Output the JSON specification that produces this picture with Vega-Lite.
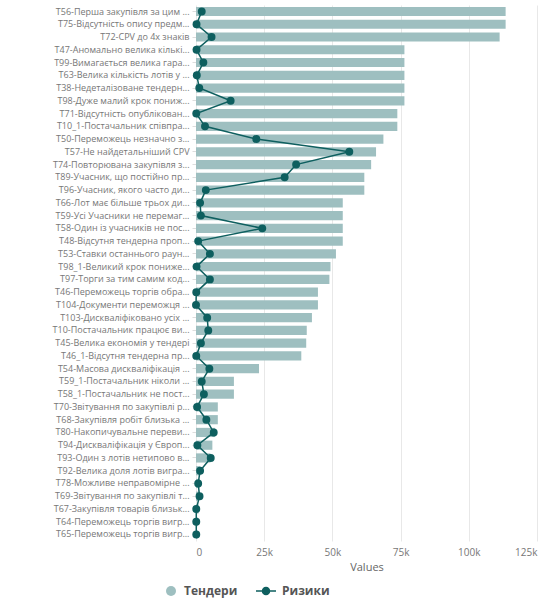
{
  "$schema": "https://vega.github.io/schema/vega-lite/v6.json",
  "width": 341,
  "height": 536,
  "padding": {"left": 5, "top": 4, "right": 5, "bottom": 0},
  "config": {
    "view": {"stroke": null},
    "font": "Open Sans",
    "axis": {"labelColor": "#777777", "titleColor": "#666666", "gridColor": "#e8e8e8", "domain": false}
  },
  "data": {
    "values": [
      {"label": "T56-Перша закупівля за цим ...", "tenders": 113500, "risks": 2100},
      {"label": "T75-Відсутність опису предм...", "tenders": 113500, "risks": 200},
      {"label": "T72-CPV до 4х знаків", "tenders": 111300, "risks": 5700},
      {"label": "T47-Аномально велика кількі...", "tenders": 76400, "risks": 200},
      {"label": "T99-Вимагається велика гара...", "tenders": 76400, "risks": 2700},
      {"label": "T63-Велика кількість лотів у ...", "tenders": 76400, "risks": 300},
      {"label": "T38-Недеталізоване тендерн...", "tenders": 76400, "risks": 1200},
      {"label": "T98-Дуже малий крок пониж...", "tenders": 76400, "risks": 12700},
      {"label": "T71-Відсутність опублікован...", "tenders": 73800, "risks": 100},
      {"label": "T10_1-Постачальник співпра...", "tenders": 73800, "risks": 3300},
      {"label": "T50-Переможець незначно з...", "tenders": 68700, "risks": 22100},
      {"label": "T57-Не найдетальніший CPV", "tenders": 66000, "risks": 56200},
      {"label": "T74-Повторювана закупівля з...", "tenders": 64200, "risks": 36700},
      {"label": "T89-Учасник, що постійно пр...", "tenders": 61700, "risks": 32500},
      {"label": "T96-Учасник, якого часто ди...", "tenders": 61700, "risks": 3600},
      {"label": "T66-Лот має більше трьох ди...", "tenders": 53800, "risks": 1500},
      {"label": "T59-Усі Учасники не перемаг...", "tenders": 53800, "risks": 1800},
      {"label": "T58-Один із учасників не пос...", "tenders": 53800, "risks": 24300},
      {"label": "T48-Відсутня тендерна проп...", "tenders": 53800, "risks": 800},
      {"label": "T53-Ставки останнього раун...", "tenders": 51300, "risks": 5100},
      {"label": "T98_1-Великий крок пониже...", "tenders": 49300, "risks": 200},
      {"label": "T97-Торги за тим самим код...", "tenders": 48900, "risks": 5100},
      {"label": "T46-Переможець торгів обра...", "tenders": 44700, "risks": 100},
      {"label": "T104-Документи переможця ...", "tenders": 44700, "risks": 0},
      {"label": "T103-Дискваліфіковано усіх ...", "tenders": 42500, "risks": 4100},
      {"label": "T10-Постачальник працює ви...", "tenders": 40600, "risks": 4500},
      {"label": "T45-Велика економія у тендері", "tenders": 40400, "risks": 1800},
      {"label": "T46_1-Відсутня тендерна пр...", "tenders": 38600, "risks": 100},
      {"label": "T54-Масова дискваліфікація ...", "tenders": 23100, "risks": 4900},
      {"label": "T59_1-Постачальник ніколи ...", "tenders": 13900, "risks": 2100},
      {"label": "T58_1-Постачальник не пост...", "tenders": 13900, "risks": 2900},
      {"label": "T70-Звітування по закупівлі р...", "tenders": 8000, "risks": 400},
      {"label": "T68-Закупівля робіт близька ...", "tenders": 8000, "risks": 3800},
      {"label": "T80-Накопичувальне переви...", "tenders": 7000, "risks": 6500},
      {"label": "T94-Дискваліфікація у Європ...", "tenders": 6000, "risks": 500},
      {"label": "T93-Один з лотів нетипово в...", "tenders": 5300, "risks": 5400},
      {"label": "T92-Велика доля лотів вигра...", "tenders": 1600, "risks": 1500},
      {"label": "T78-Можливе неправомірне ...", "tenders": 1300, "risks": 800},
      {"label": "T69-Звітування по закупівлі т...", "tenders": 1100, "risks": 1300},
      {"label": "T67-Закупівля товарів близьк...", "tenders": 900, "risks": 100},
      {"label": "T64-Переможець торгів вигр...", "tenders": 600, "risks": 100},
      {"label": "T65-Переможець торгів вигр...", "tenders": 500, "risks": 100}
    ]
  },
  "encoding": {
    "y": {
      "field": "label",
      "type": "nominal",
      "sort": null,
      "scale": {"paddingInner": 0.28, "paddingOuter": 0.15},
      "axis": {
        "title": null,
        "labelFontSize": 9,
        "labelLimit": 185,
        "minExtent": 191,
        "maxExtent": 191,
        "tickSize": 4,
        "tickColor": "#dddddd",
        "labelPadding": 3
      }
    }
  },
  "layer": [
    {
      "mark": {"type": "bar", "opacity": 1},
      "encoding": {
        "x": {
          "field": "tenders",
          "type": "quantitative",
          "scale": {"domain": [0, 125000], "nice": false},
          "axis": {
            "title": "Values",
            "values": [0, 25000, 50000, 75000, 100000, 125000],
            "labelExpr": "datum.value === 0 ? '0' : format(datum.value, '~s')",
            "labelFontSize": 10,
            "titleFontSize": 11,
            "titleFontWeight": "normal",
            "ticks": false,
            "labelPadding": 6,
            "titlePadding": 4,
            "grid": true
          }
        },
        "fill": {
          "datum": "Тендери",
          "scale": {"domain": ["Тендери"], "range": ["#9ebfc0"]},
          "legend": {
            "title": null,
            "orient": "none",
            "legendX": -31,
            "legendY": 580,
            "labelFontSize": 12,
            "labelFontWeight": "bold",
            "labelColor": "#555555",
            "labelOffset": 7,
            "symbolType": "circle",
            "symbolSize": 100,
            "symbolStrokeWidth": 0
          }
        }
      }
    },
    {
      "mark": {"type": "line", "strokeWidth": 1.5, "point": {"filled": true, "size": 35, "color": "#0e5f5f"}},
      "encoding": {
        "x": {"field": "risks", "type": "quantitative"},
        "stroke": {
          "datum": "Ризики",
          "scale": {"domain": ["Ризики"], "range": ["#0e5f5f"]},
          "legend": {
            "title": null,
            "orient": "none",
            "legendX": 59,
            "legendY": 575,
            "labelFontSize": 12,
            "labelFontWeight": "bold",
            "labelColor": "#555555",
            "labelOffset": 5,
            "symbolType": "M-1,0H1M-0.35,0A0.35,0.35,0,1,1,0.35,0A0.35,0.35,0,1,1,-0.35,0Z",
            "symbolSize": 400,
            "symbolFillColor": "#0e5f5f",
            "symbolStrokeWidth": 1.5
          }
        }
      }
    }
  ]
}
